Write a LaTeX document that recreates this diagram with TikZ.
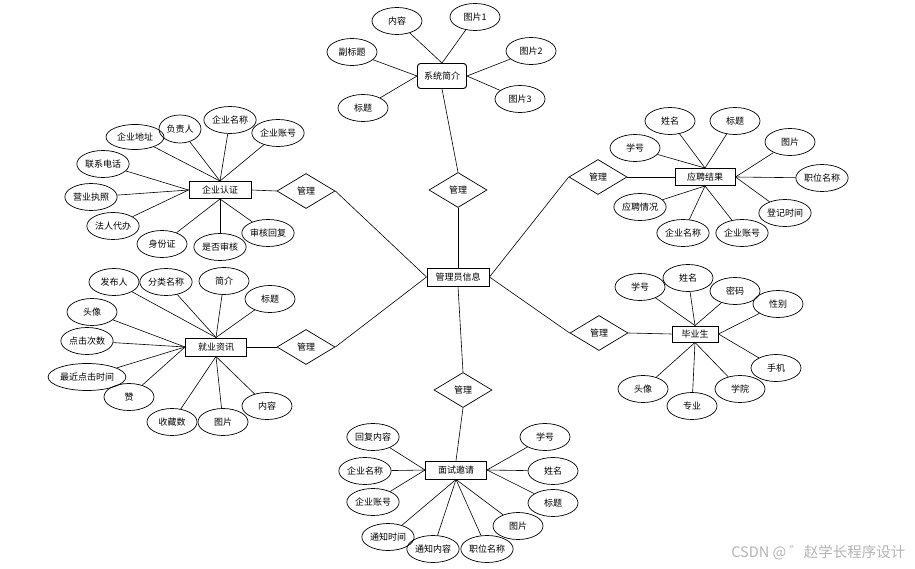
\documentclass[tikz,border=0pt]{standalone}
\usepackage{fontspec}
\usepackage{tikz}
\usetikzlibrary{shapes.geometric}
\newfontfamily\cjk{Noto Sans CJK SC}
\definecolor{Ink}{HTML}{000000}
\definecolor{Mark}{HTML}{B4B4B4}

\begin{document}
\begin{tikzpicture}[x=1pt,y=-1pt,font=\cjk\fontsize{9}{10}\selectfont,
    attr/.style={ellipse,draw=Ink,line width=0.7pt,minimum width=50pt,
      minimum height=27pt,inner sep=0.5pt},
    entity/.style={draw=Ink,line width=0.95pt,minimum height=17pt,inner sep=1pt},
    rel/.style={diamond,draw=Ink,line width=0.7pt,minimum width=58pt,
      minimum height=35pt,inner sep=0pt},
    link/.style={draw=Ink,line width=0.6pt}]
  \useasboundingbox[fill=white] (0,0) rectangle (915,569);

  % centre entity and the five relations
  \node[entity,minimum width=62pt,minimum height=18pt] (admin) at (458,277) {管理员信息};
  \node[rel] (rtop) at (458,190) {管理};
  \node[rel] (rlt) at (306,191) {管理};
  \node[rel] (rlb) at (306,347) {管理};
  \node[rel] (rrt) at (598,177) {管理};
  \node[rel] (rrb) at (599,333) {管理};
  \node[rel] (rbot) at (463,390) {管理};

  % 系统简介
  \node[entity,rounded corners=3pt,minimum width=49pt,minimum height=25pt] (sys) at (442,76) {系统简介};
  \node[attr] (sys1) at (397,21) {内容};
  \node[attr] (sys2) at (475,17) {图片1};
  \node[attr] (sys3) at (352,52) {副标题};
  \node[attr] (sys4) at (531,51) {图片2};
  \node[attr] (sys5) at (363,108) {标题};
  \node[attr] (sys6) at (520,99) {图片3};
  \foreach \a in {sys1,sys2} \draw[link] (sys.north) -- (\a);
  \foreach \a in {sys3,sys5} \draw[link] (sys.west) -- (\a);
  \foreach \a in {sys4,sys6} \draw[link] (sys.east) -- (\a);

  % 企业认证
  \node[entity,minimum width=62pt] (cert) at (220,190) {企业认证};
  \node[attr,minimum width=58pt,minimum height=25pt] (cert1) at (135,137) {企业地址};
  \node[attr,minimum width=42pt,minimum height=28pt] (cert2) at (180,129) {负责人};
  \node[attr] (cert3) at (230,120) {企业名称};
  \node[attr] (cert4) at (278,133) {企业账号};
  \node[attr] (cert5) at (103,164) {联系电话};
  \node[attr] (cert6) at (91,197) {营业执照};
  \node[attr] (cert7) at (113,226) {法人代办};
  \node[attr] (cert8) at (162,244) {身份证};
  \node[attr] (cert9) at (220,247) {是否审核};
  \node[attr] (cert10) at (268,233) {审核回复};
  \foreach \a in {cert1,cert2,cert3,cert4} \draw[link] (cert.north) -- (\a);
  \foreach \a in {cert5,cert6,cert7} \draw[link] (cert.west) -- (\a);
  \foreach \a in {cert8,cert9,cert10} \draw[link] (cert.south) -- (\a);

  % 就业资讯
  \node[entity,minimum width=61pt,minimum height=18pt] (job) at (216,347) {就业资讯};
  \node[attr] (job1) at (114,282) {发布人};
  \node[attr] (job2) at (166,282) {分类名称};
  \node[attr] (job3) at (224,281) {简介};
  \node[attr] (job4) at (270,299) {标题};
  \node[attr] (job5) at (92,312) {头像};
  \node[attr] (job6) at (87,341) {点击次数};
  \node[attr] (job7) at (87,377) {最近点击时间};
  \node[attr] (job8) at (129,397) {赞};
  \node[attr] (job9) at (172,422) {收藏数};
  \node[attr] (job10) at (223,422) {图片};
  \node[attr] (job11) at (267,406) {内容};
  \foreach \a in {job1,job2,job3,job4} \draw[link] (job.north) -- (\a);
  \foreach \a in {job5,job6,job7,job8} \draw[link] (job.west) -- (\a);
  \foreach \a in {job9,job10,job11} \draw[link] (job.south) -- (\a);

  % 应聘结果
  \node[entity,minimum width=60pt] (res) at (705,177) {应聘结果};
  \node[attr] (res1) at (670,121) {姓名};
  \node[attr] (res2) at (735,121) {标题};
  \node[attr] (res3) at (635,148) {学号};
  \node[attr] (res4) at (790,142) {图片};
  \node[attr] (res5) at (822,178) {职位名称};
  \node[attr] (res6) at (640,207) {应聘情况};
  \node[attr] (res7) at (785,213) {登记时间};
  \node[attr] (res8) at (683,233) {企业名称};
  \node[attr] (res9) at (742,233) {企业账号};
  \foreach \a in {res1,res2,res3} \draw[link] (res.north) -- (\a);
  \foreach \a in {res4,res5,res7} \draw[link] (res.east) -- (\a);
  \foreach \a in {res6,res8,res9} \draw[link] (res.south) -- (\a);

  % 毕业生
  \node[entity,minimum width=46pt,minimum height=16pt] (grad) at (695,334) {毕业生};
  \node[attr] (grad1) at (640,287) {学号};
  \node[attr] (grad2) at (688,278) {姓名};
  \node[attr] (grad3) at (735,291) {密码};
  \node[attr] (grad4) at (778,304) {性别};
  \node[attr] (grad5) at (776,368) {手机};
  \node[attr] (grad6) at (643,389) {头像};
  \node[attr] (grad7) at (692,406) {专业};
  \node[attr] (grad8) at (740,389) {学院};
  \foreach \a in {grad1,grad2,grad3} \draw[link] (grad.north) -- (\a);
  \foreach \a in {grad4,grad5} \draw[link] (grad.east) -- (\a);
  \foreach \a in {grad6,grad7,grad8} \draw[link] (grad.south) -- (\a);

  % 面试邀请
  \node[entity,minimum width=61pt,minimum height=18pt] (inv) at (456,470) {面试邀请};
  \node[attr] (inv1) at (373,437) {回复内容};
  \node[attr] (inv2) at (365,471) {企业名称};
  \node[attr] (inv3) at (373,502) {企业账号};
  \node[attr] (inv4) at (545,437) {学号};
  \node[attr] (inv5) at (553,471) {姓名};
  \node[attr] (inv6) at (553,503) {标题};
  \node[attr] (inv7) at (518,526) {图片};
  \node[attr] (inv8) at (388,537) {通知时间};
  \node[attr] (inv9) at (433,549) {通知内容};
  \node[attr] (inv10) at (487,549) {职位名称};
  \foreach \a in {inv1,inv2,inv3} \draw[link] (inv.west) -- (\a);
  \foreach \a in {inv4,inv5,inv6} \draw[link] (inv.east) -- (\a);
  \foreach \a in {inv7,inv8,inv9,inv10} \draw[link] (inv.south) -- (\a);

  % relations
  \draw[link] (sys.south) -- (rtop.north);
  \draw[link] (rtop.south) -- (admin.north);
  \draw[link] (cert.east) -- (rlt.west);
  \draw[link] (rlt.east) -- (admin.west);
  \draw[link] (job.east) -- (rlb.west);
  \draw[link] (rlb.east) -- (admin.west);
  \draw[link] (res.west) -- (rrt.east);
  \draw[link] (rrt.west) -- (admin.east);
  \draw[link] (grad.west) -- (rrb.east);
  \draw[link] (rrb.west) -- (admin.east);
  \draw[link] (admin.south) -- (rbot.north);
  \draw[link] (rbot.south) -- (inv.north);

  \node[text=Mark,font=\cjk\fontsize{14.5}{16}\selectfont,anchor=east] (mark) at (909,553) {CSDN @ ゛赵学长程序设计};
\end{tikzpicture}
\end{document}
